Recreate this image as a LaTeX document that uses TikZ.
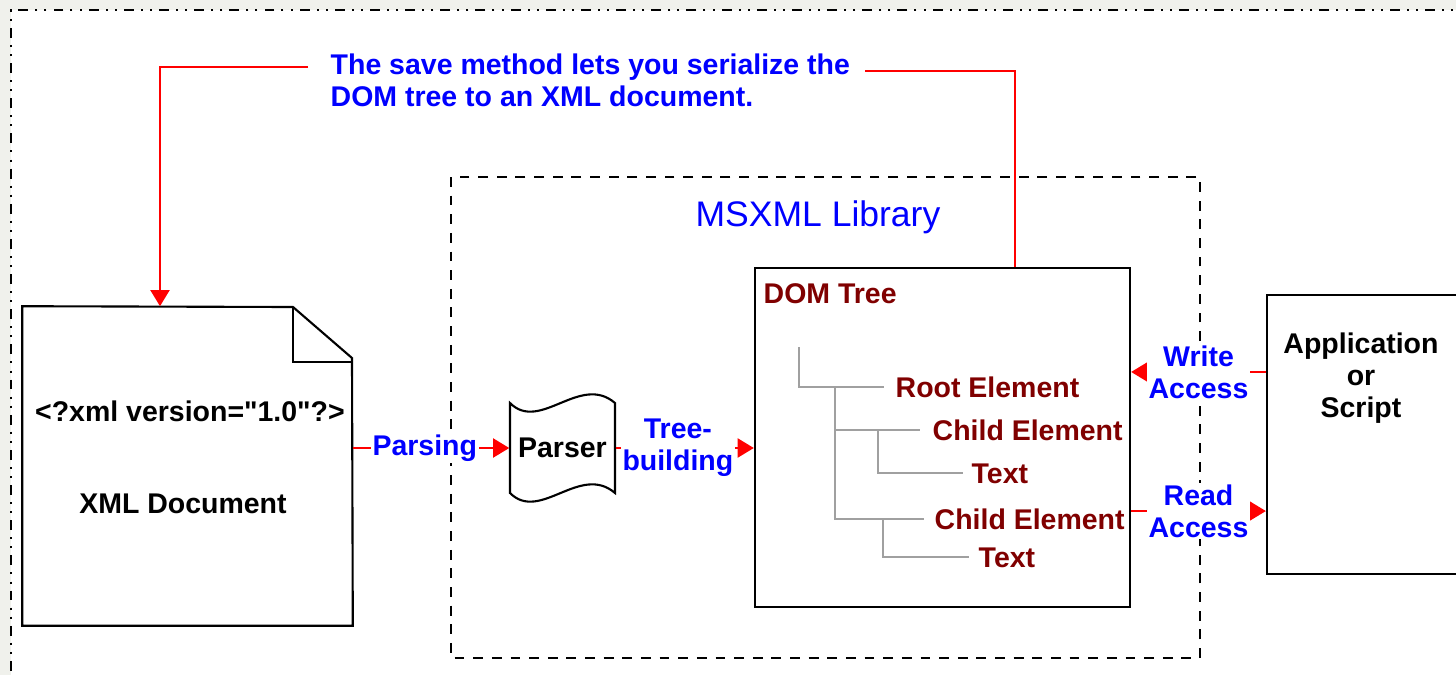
\documentclass[tikz,border=0pt]{standalone}
\usepackage{fontspec}
\setmainfont{Liberation Sans}
\newfontfamily\xmlfont{Liberation Sans}
\usetikzlibrary{arrows.meta}
\definecolor{bgout}{RGB}{240,241,236}
\definecolor{dred}{RGB}{128,0,0}
\definecolor{tgray}{RGB}{160,160,160}
\begin{document}
\begin{tikzpicture}[x=0.01cm,y=-0.01cm,
  lbl/.style={font=\fontsize{8.1}{9.1}\selectfont\bfseries, inner sep=0pt, align=center},
  bluelbl/.style={lbl, text=blue, fill=white, inner sep=0.5pt},
  redlbl/.style={lbl, text=dred, anchor=base west},
  redline/.style={draw=red, line width=0.65pt},
  redarr/.style={redline, -{Triangle[length=4.6pt,width=5.4pt]}},
  boxline/.style={draw=black, line width=0.6pt},
  treeline/.style={draw=tgray, line width=0.55pt}]
\useasboundingbox (0,0) rectangle (1456,675);
\fill[bgout] (0,0) rectangle (1456,675);
\fill[white] (11,10) rectangle (1470,690);
\draw[line width=0.6pt, dash pattern=on 2.8pt off 2pt on 0.6pt off 2pt on 0.6pt off 2pt] (1470,10) -- (11,10) -- (11,690);

% note text and save arrows
\node[lbl, text=blue, align=left, anchor=north west] (note) at (330,53) {The save method lets you serialize the\\DOM tree to an XML document.};
\coordinate (nl) at (308,67);
\coordinate (nr) at (865,71);

% MSXML library dashed box
\draw[line width=0.55pt, dash pattern=on 2.8pt off 2.5pt] (451,177) rectangle (1200,658);
\node[font=\fontsize{10.1}{12}\selectfont, text=blue, inner sep=0pt] (lib) at (818,217) {MSXML Library};

% XML document
\node[minimum width=3.29cm, minimum height=3.18cm, inner sep=0pt] (xml) at (187.5,466) {};
\draw[boxline, fill=white] (xml.north west) -- (293,307) -- (352,358) -- (xml.south east) -- (xml.south west) -- cycle;
\draw[boxline] (293,307) -- (293,362) -- (352,362);
\node[lbl, font=\xmlfont\fontsize{8.1}{9.1}\selectfont\bfseries] (xmldecl) at (190,411) {<?xml version="1.0"?>};
\node[lbl] (xmlname) at (183,504) {XML Document};

% Parser
\node[lbl, minimum width=1.05cm, minimum height=0.9cm] (parser) at (562.5,448) {};
\draw[boxline, fill=white] (510,403) .. controls (540,433) and (580,373) .. (615,403) -- (615,493) .. controls (580,463) and (540,523) .. (510,493) -- cycle;
\node[lbl] (parsertxt) at (parser) {Parser};

% DOM tree box
\node[boxline, fill=white, minimum width=3.75cm, minimum height=3.39cm, inner sep=0pt] (dom) at (942.5,437.5) {};
\node[redlbl] (domtitle) at (763,303) {DOM Tree};
\node[redlbl] (root) at (895,397) {Root Element};
\node[redlbl] (child1) at (932,440) {Child Element};
\node[redlbl] (text1) at (971,483) {Text};
\node[redlbl] (child2) at (934,529) {Child Element};
\node[redlbl] (text2) at (978,567) {Text};
\draw[treeline] (799,347) |- ([xshift=-0.11cm]root.west);
\draw[treeline] (835,388) |- ([xshift=-0.1cm]child2.west);
\draw[treeline] (835,0 |- child1.west) -- ([xshift=-0.12cm]child1.west);
\draw[treeline] (878,0 |- child1.west) |- ([xshift=-0.08cm]text1.west);
\draw[treeline] (883,0 |- child2.west) |- ([xshift=-0.09cm]text2.west);

% Application
\node[boxline, fill=white, minimum width=2.2cm, minimum height=2.79cm, inner sep=0pt] (app) at (1377,434.5) {};
\node[lbl, anchor=north] (apptxt) at (1361,332) {Application\\or\\Script};

% connectors
\draw[redarr] (nl) -| (160,0 |- xml.north);
\draw[redline] (nr) -| (1015,0 |- dom.north);
\draw[redarr] (parser.west -| xml.east) -- node[bluelbl, pos=0.46] {Parsing} (parser.west);
\draw[redarr] (parser.east) -- node[bluelbl, pos=0.45] {Tree-\\building} (dom.west |- parser.east);
\coordinate (wa) at ([yshift=0.625cm]app.west);
\coordinate (ra) at ([yshift=-0.765cm]app.west);
\draw[redarr] (wa) -- node[bluelbl] {Write\\Access} (wa -| dom.east);
\draw[redarr] (ra -| dom.east) -- node[bluelbl] {Read\\Access} (ra);
\end{tikzpicture}
\end{document}
